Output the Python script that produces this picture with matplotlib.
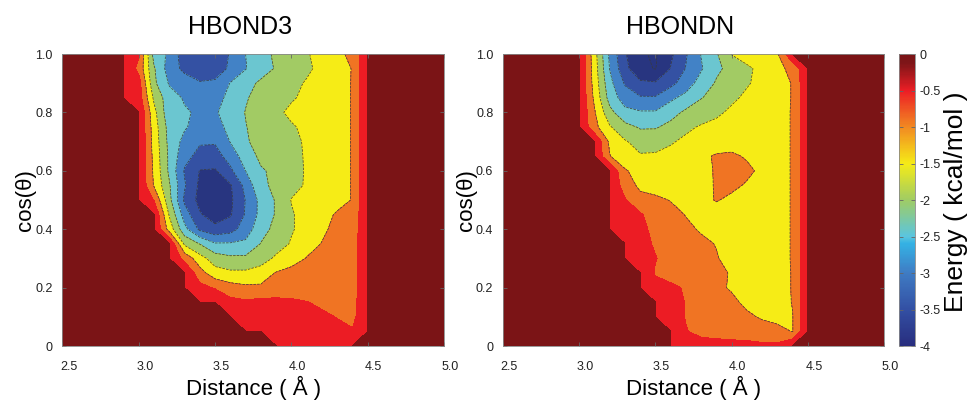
import numpy as np
import matplotlib
matplotlib.use('Agg')
import matplotlib.pyplot as plt
import matplotlib.transforms as mtransforms
from matplotlib.colors import LinearSegmentedColormap, Normalize
from matplotlib.cm import ScalarMappable

plt.rcParams['font.family'] = ['Liberation Sans', 'DejaVu Sans']
plt.rcParams['axes.unicode_minus'] = False

# grid of the energy maps
distance = [2.5, 2.6, 2.7, 2.8, 2.9, 3.0, 3.1, 3.2, 3.3, 3.4, 3.5, 3.6, 3.7,
            3.8, 3.9, 4.0, 4.1, 4.2, 4.3, 4.4, 4.5, 4.6, 4.7, 4.8, 4.9, 5.0]
cos_theta = [1.0, 0.95, 0.9, 0.85, 0.8, 0.75, 0.7, 0.65, 0.6, 0.55, 0.5,
             0.45, 0.4, 0.35, 0.3, 0.25, 0.2, 0.15, 0.1, 0.05, 0.0]

# energies, columns 2.9 .. 4.5 A, rows cos=1.0 (top) .. 0.0
# 0 = no data (dark red)
hbond3_energy = [
    [0, -0.45, -2.2, -2.6, -3.3, -3.4, -3.4, -2.95, -2.5, -2.2, -1.9, -1.75, -1.55, -1.3, -1.1, -0.9, 0],
    [0, -0.64, -1.95, -2.74, -3.13, -3.35, -3.3, -2.9, -2.52, -2.25, -1.95, -1.75, -1.6, -1.35, -1.2, -0.98, 0],
    [0, -0.29, -1.9, -2.55, -2.75, -2.95, -2.9, -2.48, -2.2, -1.9, -1.8, -1.65, -1.45, -1.3, -1.15, -0.98, 0],
    [0, -0.25, -1.6, -2.3, -2.55, -2.8, -2.7, -2.35, -2.05, -1.8, -1.7, -1.55, -1.4, -1.3, -1.15, -0.98, 0],
    [0, 0, -1.35, -2.35, -2.45, -2.57, -2.55, -2.3, -1.98, -1.8, -1.6, -1.4, -1.3, -1.25, -1.15, -0.98, 0],
    [0, 0, -1.25, -2.2, -2.45, -2.7, -2.7, -2.35, -2.02, -1.8, -1.7, -1.55, -1.4, -1.25, -1.15, -0.98, 0],
    [0, 0, -1.2, -2.15, -2.65, -2.95, -2.95, -2.48, -2.05, -1.85, -1.75, -1.6, -1.45, -1.3, -1.15, -0.98, 0],
    [0, 0, -1.15, -2.1, -2.85, -3.15, -3.2, -2.8, -2.25, -1.9, -1.75, -1.65, -1.45, -1.3, -1.15, -0.98, 0],
    [0, 0, -1.1, -2.1, -3.05, -3.52, -3.55, -3.1, -2.5, -2.05, -1.9, -1.7, -1.45, -1.3, -1.15, -0.98, 0],
    [0, 0, -1.05, -1.95, -2.95, -3.6, -3.75, -3.55, -2.85, -2.1, -1.9, -1.65, -1.45, -1.3, -1.15, -0.98, 0],
    [0, 0, -0.52, -1.85, -3.1, -3.65, -3.8, -3.6, -2.98, -2.35, -1.95, -1.48, -1.35, -1.25, -1.15, -0.98, 0],
    [0, 0, 0, -1.55, -2.75, -3.45, -3.75, -3.55, -2.95, -2.35, -1.95, -1.55, -1.3, -1.15, -0.95, -0.85, 0],
    [0, 0, 0, -1.2, -2.35, -3.1, -3.35, -3.2, -2.75, -2.2, -1.85, -1.55, -1.3, -1.1, -0.85, -0.8, 0],
    [0, 0, 0, 0, -1.6, -2.02, -2.45, -2.45, -2.4, -1.98, -1.75, -1.45, -1.2, -0.98, -0.8, -0.75, 0],
    [0, 0, 0, 0, -0.65, -1.3, -1.75, -1.9, -1.9, -1.75, -1.4, -1.2, -0.98, -0.85, -0.78, -0.75, 0],
    [0, 0, 0, 0, 0, -0.8, -1.3, -1.4, -1.4, -1.25, -0.97, -0.85, -0.8, -0.8, -0.75, -0.75, 0],
    [0, 0, 0, 0, 0, -0.35, -0.55, -0.8, -0.9, -0.92, -0.85, -0.8, -0.8, -0.8, -0.75, -0.75, 0],
    [0, 0, 0, 0, 0, 0, 0, -0.35, -0.42, -0.35, -0.35, -0.4, -0.48, -0.6, -0.7, -0.7, 0],
    [0, 0, 0, 0, 0, 0, 0, 0, -0.25, -0.3, -0.3, -0.3, -0.35, -0.4, -0.52, -0.65, 0],
    [0, 0, 0, 0, 0, 0, 0, 0, 0, 0, -0.2, -0.25, -0.3, -0.3, -0.35, -0.45, 0],
    [0, 0, 0, 0, 0, 0, 0, 0, 0, 0, 0, -0.2, -0.25, -0.25, -0.25, 0, 0],
]

hbondn_energy = [
    [0, 0, -1.3, -2.6, -3.45, -3.95, -4.05, -3.6, -3.05, -2.48, -2.05, -1.48, -1.25, -1.15, -1.05, 0, 0],
    [0, 0, -1.25, -2.52, -3.35, -3.9, -4.02, -3.48, -2.98, -2.55, -2.1, -1.85, -1.6, -1.35, -1.1, -0.9, 0],
    [0, 0, -1.2, -2.35, -3.05, -3.4, -3.45, -3.15, -2.75, -2.3, -1.95, -1.75, -1.55, -1.35, -1.15, -0.98, 0],
    [0, 0, -1.1, -2.2, -2.75, -2.95, -2.95, -2.6, -2.35, -2.02, -1.85, -1.6, -1.4, -1.3, -1.15, -0.98, 0],
    [0, 0, -0.95, -1.85, -2.35, -2.45, -2.45, -2.2, -1.9, -1.75, -1.6, -1.4, -1.3, -1.2, -1.1, -0.98, 0],
    [0, 0, -0.85, -1.45, -1.85, -2.05, -2.05, -1.85, -1.6, -1.45, -1.35, -1.25, -1.2, -1.15, -1.1, -0.98, 0],
    [0, 0, 0, -1.1, -1.45, -1.7, -1.65, -1.55, -1.4, -1.3, -1.25, -1.2, -1.2, -1.15, -1.1, -0.98, 0],
    [0, 0, 0, -0.98, -1.3, -1.45, -1.45, -1.35, -1.2, -1.1, -0.95, -0.92, -1.05, -1.15, -1.1, -0.98, 0],
    [0, 0, 0, 0, -0.95, -1.2, -1.3, -1.3, -1.2, -1.1, -0.97, -0.85, -0.9, -1.1, -1.1, -0.98, 0],
    [0, 0, 0, 0, -0.75, -1.1, -1.2, -1.25, -1.2, -1.15, -0.96, -0.9, -1.05, -1.15, -1.1, -0.98, 0],
    [0, 0, 0, 0, -0.45, -0.85, -0.9, -1.02, -1.15, -1.15, -0.97, -1.1, -1.15, -1.15, -1.1, -0.98, 0],
    [0, 0, 0, 0, -0.3, -0.45, -0.7, -0.85, -1.02, -1.15, -1.2, -1.2, -1.2, -1.15, -1.1, -0.98, 0],
    [0, 0, 0, 0, -0.25, -0.4, -0.6, -0.8, -0.9, -1.05, -1.2, -1.25, -1.2, -1.15, -1.1, -0.98, 0],
    [0, 0, 0, 0, 0, -0.35, -0.55, -0.7, -0.8, -0.9, -1.02, -1.2, -1.25, -1.2, -1.1, -0.98, 0],
    [0, 0, 0, 0, 0, -0.3, -0.48, -0.65, -0.75, -0.85, -0.97, -1.15, -1.25, -1.2, -1.1, -0.98, 0],
    [0, 0, 0, 0, 0, 0, -0.55, -0.7, -0.75, -0.8, -0.85, -1.05, -1.2, -1.2, -1.15, -0.98, 0],
    [0, 0, 0, 0, 0, 0, -0.3, -0.4, -0.55, -0.75, -0.9, -1.05, -1.2, -1.25, -1.15, -0.98, 0],
    [0, 0, 0, 0, 0, 0, 0, -0.3, -0.52, -0.65, -0.75, -0.9, -1.1, -1.2, -1.2, -0.98, 0],
    [0, 0, 0, 0, 0, 0, 0, -0.3, -0.52, -0.65, -0.75, -0.85, -0.92, -1.05, -1.15, -1.02, 0],
    [0, 0, 0, 0, 0, 0, 0, 0, -0.48, -0.6, -0.65, -0.7, -0.75, -0.8, -0.85, -1.02, 0],
    [0, 0, 0, 0, 0, 0, 0, 0, -0.3, -0.35, -0.35, -0.35, -0.35, -0.4, -0.4, 0, 0],
]

panel_titles = ['HBOND3', 'HBONDN']
x_ticks = [2.5, 3.0, 3.5, 4.0, 4.5, 5.0]
x_ticklabels = ['2.5', '3.0', '3.5', '4.0', '4.5', '5.0']
y_ticks = [0, 0.2, 0.4, 0.6, 0.8, 1.0]
y_ticklabels = ['0', '0.2', '0.4', '0.6', '0.8', '1.0']
cbar_ticks = [-4, -3.5, -3, -2.5, -2, -1.5, -1, -0.5, 0]
cbar_ticklabels = ['-4', '-3.5', '-3', '-2.5', '-2', '-1.5', '-1', '-0.5', '0']

fill_levels = [-5, -4, -3.5, -3, -2.5, -2, -1.5, -1, -0.5, -0.001, 1]
fill_colors = ['#283580', '#283580', '#3451a3', '#4282c6', '#6bc6d0',
               '#a2cb64', '#f6ec16', '#f07423', '#ec1c24', '#7b1416']
line_levels = [-4, -3.5, -3, -2.5, -2, -1.5, -1]

# printed-looking jet for the colour bar
cbar_cmap = LinearSegmentedColormap.from_list('printjet', [
    (0.0, '#282d7e'), (0.125, '#3350a4'), (0.25, '#3f7cc4'),
    (0.35, '#34b2e4'), (0.375, '#5bc5de'), (0.5, '#a0cc64'),
    (0.625, '#f5eb17'), (0.75, '#f28a22'), (0.875, '#ec1e25'),
    (0.97, '#7e1518'), (1.0, '#7a1416')])

data_start = distance.index(2.9)


def full_grid(block):
    grid = np.zeros((len(cos_theta), len(distance)))
    block = np.array(block, dtype=float)
    grid[:, data_start:data_start + block.shape[1]] = block
    return np.flipud(grid)


fig = plt.figure(figsize=(9.72, 4.03), dpi=100)
ax_left = fig.add_axes([0.0643, 0.1414, 0.3925, 0.7246])
ax_right = fig.add_axes([0.5175, 0.1414, 0.392, 0.7246])
cax = fig.add_axes([0.9249, 0.1414, 0.0165, 0.7246])

X, Y = np.meshgrid(distance, cos_theta[::-1])
shift = mtransforms.ScaledTranslation(0.06, 0, fig.dpi_scale_trans)

for ax, title, energy in zip([ax_left, ax_right], panel_titles,
                             [hbond3_energy, hbondn_energy]):
    Z = full_grid(energy)
    ax.contourf(X, Y, Z, levels=fill_levels, colors=fill_colors)
    ax.contour(X, Y, Z, levels=line_levels, colors='#3a3a3a', linewidths=0.5)
    ax.set_xlim(2.5, 5.0)
    ax.set_ylim(0, 1.0)
    ax.set_xticks(x_ticks)
    ax.set_xticklabels(x_ticklabels)
    ax.set_yticks(y_ticks)
    ax.set_yticklabels(y_ticklabels)
    ax.tick_params(direction='in', length=3, width=0.6, color='#666666',
                   labelsize=9, labelcolor='#222222', top=True, right=True)
    ax.tick_params(axis='x', pad=11)
    ax.tick_params(axis='y', pad=7)
    for lab in ax.get_xticklabels():
        lab.set_transform(lab.get_transform() + shift)
    for sp in ax.spines.values():
        sp.set_color('#888888')
        sp.set_linewidth(0.6)
    ax.set_xlabel('Distance ( Å )', fontsize=16, va='center')
    ax.xaxis.set_label_coords(0.5, -0.144)
    ax.set_ylabel('cos(θ)', fontsize=16)
    ax.yaxis.set_label_coords(-0.069, 0.5)
    ax.text(0.465, 1.068, title, transform=ax.transAxes, ha='center',
            va='baseline', fontsize=18)

sm = ScalarMappable(norm=Normalize(-4, 0), cmap=cbar_cmap)
cb = fig.colorbar(sm, cax=cax, ticks=cbar_ticks)
cb.ax.set_yticklabels(cbar_ticklabels)
cb.ax.tick_params(direction='in', length=3, width=0.6, color='#666666',
                  labelsize=9, labelcolor='#222222', left=True, right=True, pad=3)
cb.outline.set_edgecolor('#888888')
cb.outline.set_linewidth(0.6)
fig.text(956 / 972, 1 - 202 / 403, 'Energy ( kcal/mol )', rotation=90,
         ha='center', va='center', fontsize=19)

fig.savefig('out.png', dpi=100)
